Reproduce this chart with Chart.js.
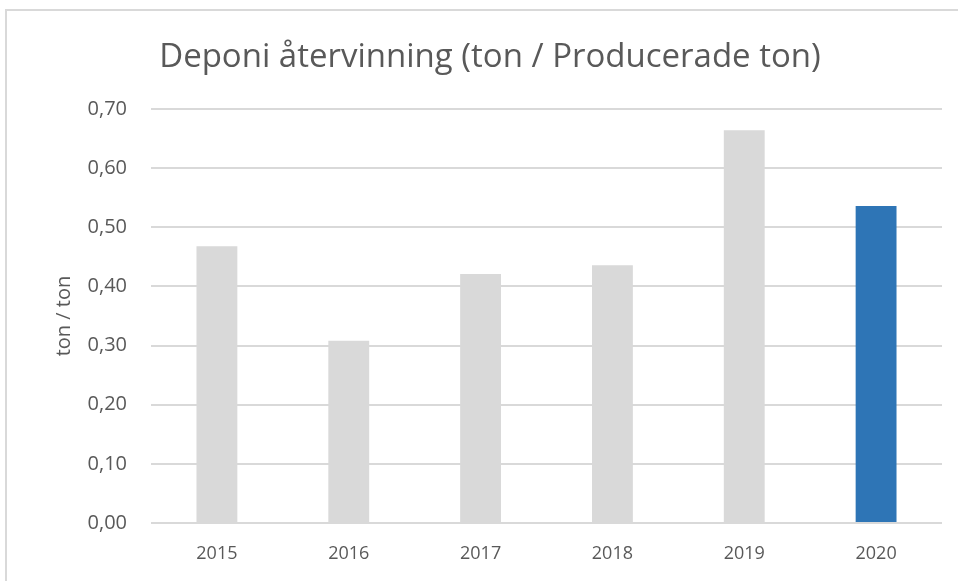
<!DOCTYPE html>
<html>
<head>
<meta charset="utf-8">
<script src="https://cdn.jsdelivr.net/npm/chart.js@4"></script>
<style>
  html, body { margin: 0; padding: 0; background: #fff; }
  #wrap { position: relative; width: 958px; height: 581px; overflow: hidden; }
  #frame { position: absolute; left: 5px; top: 9px; width: 1000px; height: 1000px;
           border-left: 2px solid #d9d9d9; border-top: 2px solid #d9d9d9; }
  #c { position: absolute; left: 0; top: 0; }
</style>
</head>
<body>
<div id="wrap">
  <div id="frame"></div>
  <canvas id="c" width="958" height="581"></canvas>
</div>
<script>
const years = ['2015', '2016', '2017', '2018', '2019', '2020'];
const values = [0.468, 0.308, 0.421, 0.436, 0.664, 0.536];
const barColors = ['#d9d9d9', '#d9d9d9', '#d9d9d9', '#d9d9d9', '#d9d9d9', '#2e75b6'];
const yTicks = [0, 0.1, 0.2, 0.3, 0.4, 0.5, 0.6, 0.7];

const fontFamily = '"Open Sans", "DejaVu Sans", sans-serif';

document.addEventListener("DOMContentLoaded", () => {
    const ctx = document.getElementById('c').getContext('2d');
    new Chart(ctx, {
        type: 'bar',
        data: {
            labels: years,
            datasets: [{
                data: values,
                backgroundColor: barColors,
                borderWidth: 0,
                categoryPercentage: 1,
                barPercentage: 0.31
            }]
        },
        options: {
            responsive: false,
            animation: false,
            // left padding shifts the title centre to match the original
            layout: { padding: { left: 38, right: 16, top: 0, bottom: 0 } },
            plugins: {
                legend: { display: false },
                tooltip: { enabled: false },
                title: {
                    display: true,
                    text: 'Deponi återvinning (ton / Producerade ton)',
                    color: '#595959',
                    font: { family: fontFamily, size: 33, weight: 'normal' },
                    padding: { top: 38, bottom: 31.4 }
                }
            },
            scales: {
                x: {
                    grid: { display: false, drawTicks: false },
                    border: { display: false },
                    ticks: { color: '#595959', font: { family: fontFamily, size: 18 }, padding: 20 },
                    afterFit: s => { s.height = 58; }
                },
                y: {
                    min: 0,
                    max: 0.7,
                    afterBuildTicks: s => { s.ticks = yTicks.map(v => ({ value: v })); },
                    grid: { color: '#d9d9d9', lineWidth: 2, drawTicks: false },
                    border: { display: false },
                    ticks: {
                        color: '#595959',
                        font: { family: fontFamily, size: 20 },
                        padding: 24,
                        callback: v => v.toFixed(2).replace('.', ',')
                    },
                    title: {
                        display: true,
                        text: 'ton / ton',
                        color: '#595959',
                        font: { family: fontFamily, size: 20 },
                        padding: { top: 14, bottom: 0 }
                    },
                    afterFit: s => { s.width = 113; }
                }
            }
        }
    });
});
</script>
</body>
</html>
